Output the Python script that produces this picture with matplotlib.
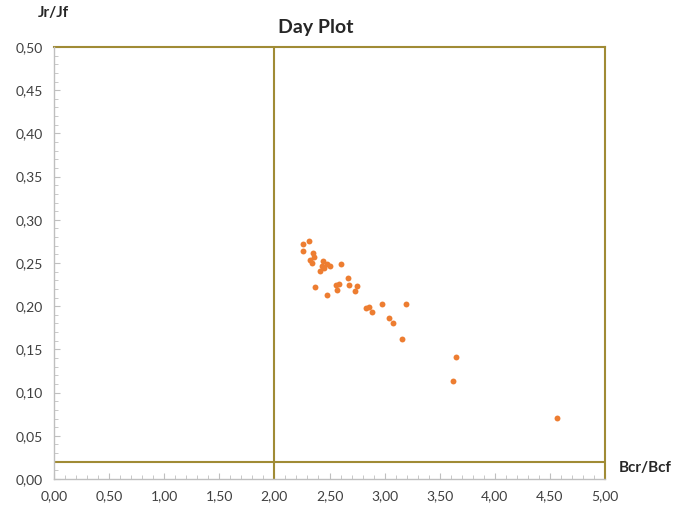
import matplotlib
matplotlib.use("Agg")
import matplotlib.pyplot as plt
import matplotlib.ticker as mticker

plt.rcParams['font.family'] = ['Lato', 'DejaVu Sans']

bcr_bcf = [2.257, 2.317, 2.257, 2.353, 2.359, 2.323, 2.341, 2.444, 2.475, 2.505,
           2.429, 2.450, 2.414, 2.602, 2.668, 2.583, 2.559, 2.571, 2.674, 2.750,
           2.731, 2.366, 2.477, 2.831, 2.861, 2.886, 2.974, 3.194, 3.040, 3.073,
           3.155, 3.648, 3.623, 4.562]
jr_jf = [0.272, 0.276, 0.264, 0.261, 0.257, 0.254, 0.250, 0.252, 0.249, 0.247,
         0.247, 0.244, 0.241, 0.249, 0.233, 0.226, 0.224, 0.219, 0.225, 0.223,
         0.218, 0.222, 0.213, 0.198, 0.199, 0.193, 0.202, 0.203, 0.186, 0.181,
         0.162, 0.141, 0.113, 0.071]

line_col = '#A08B35'
dot_col = '#ED7D31'
grey = '#BFBFBF'

fig = plt.figure(figsize=(6.74, 5.07), dpi=100)
ax = fig.add_axes([54/674, 28/507, 551/674, 432/507])

ax.plot([0, 5], [0.02, 0.02], color=line_col, linewidth=1.5, zorder=2)
ax.plot([2, 2], [0, 0.5], color=line_col, linewidth=1.5, zorder=2)
ax.plot([0, 5], [0.5, 0.5], color=line_col, linewidth=1.5, zorder=2, clip_on=False)
ax.plot([5, 5], [0, 0.5], color=line_col, linewidth=1.5, zorder=2, clip_on=False)

ax.scatter(bcr_bcf, jr_jf, s=18, color=dot_col, linewidths=0, zorder=3)

ax.set_xlim(0, 5)
ax.set_ylim(0, 0.5)
ax.xaxis.set_major_locator(mticker.MultipleLocator(0.5))
ax.xaxis.set_minor_locator(mticker.MultipleLocator(0.1))
ax.yaxis.set_major_locator(mticker.MultipleLocator(0.05))
ax.yaxis.set_minor_locator(mticker.MultipleLocator(0.01))
fmt = mticker.FuncFormatter(lambda v, p: f'{v:.2f}'.replace('.', ','))
ax.xaxis.set_major_formatter(fmt)
ax.yaxis.set_major_formatter(fmt)

for side in ['top', 'right']:
    ax.spines[side].set_visible(False)
for side in ['left', 'bottom']:
    ax.spines[side].set_color(grey)
    ax.spines[side].set_linewidth(1)

ax.tick_params(which='both', direction='in', color=grey, labelsize=10,
               labelcolor='#404040')
ax.tick_params(which='major', length=4, pad=8)
ax.tick_params(which='minor', length=3)

fig.text(316/674, 1 - 28/507, 'Day Plot', ha='center', va='center',
         fontsize=14, fontweight='bold', color='#262626')
fig.text(53/674, 1 - 13/507, 'Jr/Jf', ha='center', va='center',
         fontsize=11, fontweight='bold', color='#262626')
fig.text(645/674, 1 - 468/507, 'Bcr/Bcf', ha='center', va='center',
         fontsize=11, fontweight='bold', color='#262626')

fig.savefig('out.png', dpi=100)
